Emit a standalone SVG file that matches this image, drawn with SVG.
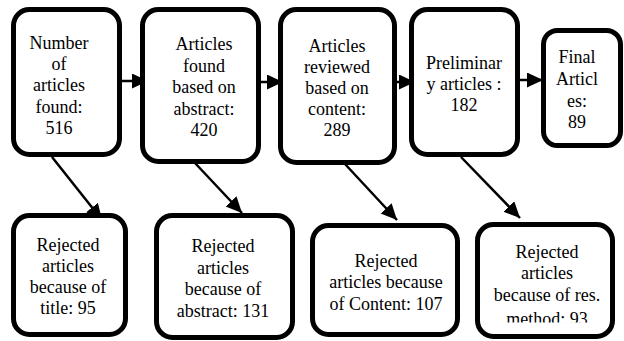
<svg xmlns="http://www.w3.org/2000/svg" width="624" height="341" viewBox="0 0 624 341">
<style>
.box{fill:#fff;stroke:#000;stroke-width:5}
text{font-family:'Liberation Serif','Times New Roman',serif;font-size:18px;fill:#000;text-anchor:middle}
.c{stroke:#000;stroke-width:2.5;fill:none;marker-end:url(#ah)}
</style>
<defs>
<marker id="ah" markerUnits="userSpaceOnUse" markerWidth="18" markerHeight="16" refX="16" refY="7.5" orient="auto">
<path d="M0,0 L16,7.5 L0,15 Z" fill="#000"/>
</marker>
<clipPath id="clip9"><rect x="470" y="220" width="150" height="102.5"/></clipPath>
</defs>
<g id="connectors">
<line class="c" x1="122" y1="81" x2="148" y2="81"/>
<line class="c" x1="261" y1="82" x2="283" y2="82"/>
<line class="c" x1="397" y1="82" x2="415" y2="82"/>
<line class="c" x1="520" y1="80" x2="543" y2="80"/>
<line class="c" x1="52" y1="157" x2="102" y2="220"/>
<line class="c" x1="195" y1="163" x2="242" y2="213"/>
<line class="c" x1="345" y1="164" x2="397" y2="220"/>
<line class="c" x1="461" y1="157" x2="520" y2="218"/>
</g>
<g id="n1">
<rect class="box" x="13.5" y="9.5" width="106" height="145" rx="16"/>
<text x="59" y="49">Number</text>
<text x="59" y="70">of</text>
<text x="59" y="91">articles</text>
<text x="59" y="113">found:</text>
<text x="59" y="134">516</text>
</g>
<g id="n2">
<rect class="box" x="142.5" y="9.5" width="116" height="152" rx="16"/>
<text x="204" y="50">Articles</text>
<text x="204" y="72">found</text>
<text x="204" y="93">based on</text>
<text x="204" y="115">abstract:</text>
<text x="204" y="136">420</text>
</g>
<g id="n3">
<rect class="box" x="280.5" y="9.5" width="114" height="153" rx="16"/>
<text x="337" y="52">Articles</text>
<text x="337" y="73">reviewed</text>
<text x="337" y="94">based on</text>
<text x="337" y="115">content:</text>
<text x="337" y="136">289</text>
</g>
<g id="n4">
<rect class="box" x="411.5" y="9.5" width="106" height="145" rx="16"/>
<text x="464" y="69">Preliminar</text>
<text x="464" y="90">y articles :</text>
<text x="464" y="111">182</text>
</g>
<g id="n5">
<rect class="box" x="543.5" y="30.5" width="77" height="115" rx="14"/>
<text x="577" y="63">Final</text>
<text x="577" y="85">Articl</text>
<text x="577" y="107">es:</text>
<text x="577" y="128">89</text>
</g>
<g id="n6">
<rect class="box" x="13.5" y="215.5" width="112" height="119" rx="16"/>
<text x="68" y="251">Rejected</text>
<text x="68" y="272">articles</text>
<text x="68" y="293">because of</text>
<text x="68" y="314">title: 95</text>
</g>
<g id="n7">
<rect class="box" x="156.5" y="215.5" width="136" height="122" rx="16"/>
<text x="223" y="252">Rejected</text>
<text x="223" y="274">articles</text>
<text x="223" y="295">because of</text>
<text x="223" y="317">abstract: 131</text>
</g>
<g id="n8">
<rect class="box" x="312.5" y="225.5" width="145" height="109" rx="16"/>
<text x="386" y="267">Rejected</text>
<text x="386" y="288">articles because</text>
<text x="386" y="310">of Content: 107</text>
</g>
<g id="n9">
<rect class="box" x="477.5" y="224.5" width="135" height="112" rx="16"/>
<g clip-path="url(#clip9)">
<text x="547" y="258">Rejected</text>
<text x="547" y="279">articles</text>
<text x="547" y="301">because of res.</text>
<text x="547" y="325">method: 93</text>
</g>
</g>
</svg>
